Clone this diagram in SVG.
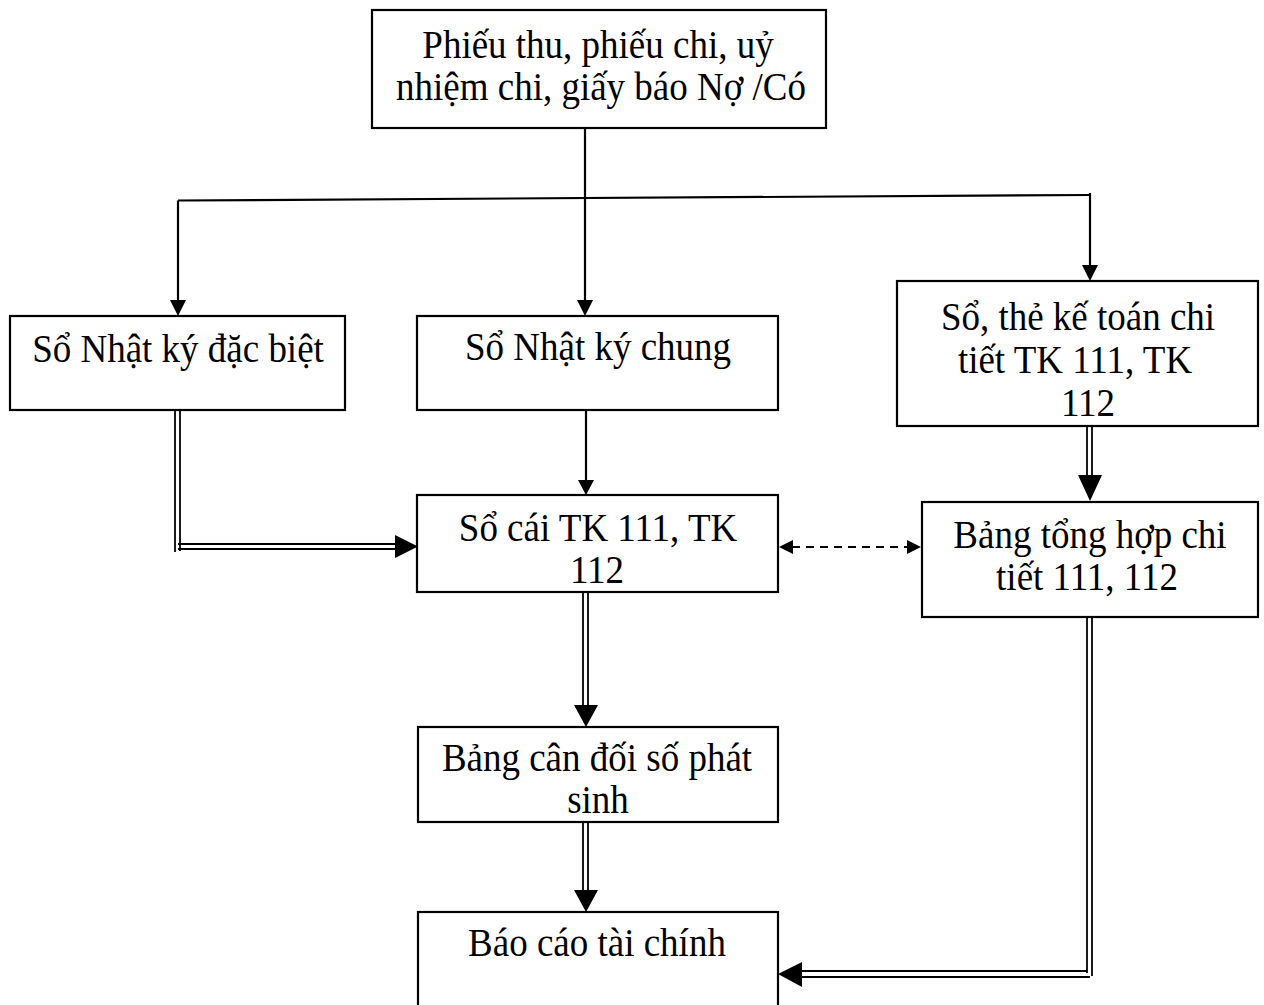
<svg xmlns="http://www.w3.org/2000/svg" width="1264" height="1005" viewBox="0 0 1264 1005">
<style>
.box{fill:#fff;stroke:#000;stroke-width:2.2}
.t{font-family:"Liberation Serif","Times New Roman",serif;font-size:37px;fill:#000;text-anchor:middle}
.ln{stroke:#000;stroke-width:2.2;fill:none}
.dl{stroke:#000;stroke-width:1.8;fill:none}
.dash{stroke:#000;stroke-width:2.2;fill:none;stroke-dasharray:8 6}
.ah{fill:#000}
</style>
<rect width="1264" height="1005" fill="#fff"/>
<g id="connectors">
  <line class="ln" x1="585" y1="128" x2="585" y2="302"/>
  <line class="ln" x1="178" y1="200.5" x2="1090" y2="195"/>
  <line class="ln" x1="178" y1="200.5" x2="178" y2="302"/>
  <line class="ln" x1="1090" y1="193" x2="1090" y2="267"/>
  <polygon class="ah" points="170,300 186,300 178,316"/>
  <polygon class="ah" points="577,300 593,300 585,316"/>
  <polygon class="ah" points="1082,265 1098,265 1090,281"/>
  <line class="ln" x1="586" y1="402" x2="586" y2="482"/>
  <polygon class="ah" points="578,480 594,480 586,495"/>
  <line class="dl" x1="175" y1="410" x2="175" y2="552"/>
  <line class="dl" x1="180" y1="410" x2="180" y2="551"/>
  <line class="dl" x1="178" y1="544" x2="396" y2="544"/>
  <line class="dl" x1="178" y1="549" x2="396" y2="549"/>
  <polygon class="ah" points="395,535 418,546.5 395,558"/>
  <line class="dash" x1="792" y1="547" x2="908" y2="547"/>
  <polygon class="ah" points="793,540 793,554 779,547"/>
  <polygon class="ah" points="907,540 907,554 921,547"/>
  <line class="dl" x1="1087" y1="426" x2="1087" y2="476"/>
  <line class="dl" x1="1092" y1="426" x2="1092" y2="476"/>
  <polygon class="ah" points="1078,475 1102,475 1090,501"/>
  <line class="dl" x1="583" y1="592" x2="583" y2="706"/>
  <line class="dl" x1="588" y1="592" x2="588" y2="706"/>
  <polygon class="ah" points="574,705 598,705 586,727"/>
  <line class="dl" x1="583" y1="822" x2="583" y2="891"/>
  <line class="dl" x1="588" y1="822" x2="588" y2="891"/>
  <polygon class="ah" points="574,890 598,890 586,912"/>
  <line class="dl" x1="1087" y1="617" x2="1087" y2="973"/>
  <line class="dl" x1="1092" y1="617" x2="1092" y2="976"/>
  <line class="dl" x1="800" y1="971" x2="1087" y2="971"/>
  <line class="dl" x1="800" y1="977" x2="1090" y2="977"/>
  <polygon class="ah" points="802,962 802,987 778,974"/>
</g>
<g id="n-chungtu">
  <rect class="box" x="372" y="10" width="454" height="118"/>
  <text class="t" x="598" y="0" transform="translate(0,58) scale(1,1.1)">Phiếu thu, phiếu chi, uỷ</text>
  <text class="t" x="601" y="0" transform="translate(0,100) scale(1,1.1)">nhiệm chi, giấy báo Nợ /Có</text>
</g>
<g id="n-nkdb">
  <rect class="box" x="10" y="316" width="335" height="94"/>
  <text class="t" x="178" y="0" transform="translate(0,362) scale(1,1.1)">Sổ Nhật ký đặc biệt</text>
</g>
<g id="n-nkc">
  <rect class="box" x="417" y="316" width="361" height="94"/>
  <text class="t" x="598" y="0" transform="translate(0,360) scale(1,1.1)">Sổ Nhật ký chung</text>
</g>
<g id="n-sothe">
  <rect class="box" x="897" y="281" width="361" height="145"/>
  <text class="t" x="1078" y="0" transform="translate(0,330) scale(1,1.1)">Sổ, thẻ kế toán chi</text>
  <text class="t" x="1075" y="0" transform="translate(0,373) scale(1,1.1)">tiết TK 111, TK</text>
  <text class="t" x="1088" y="0" transform="translate(0,416) scale(1,1.1)">112</text>
</g>
<g id="n-socai">
  <rect class="box" x="417" y="495" width="361" height="97"/>
  <text class="t" x="598" y="0" transform="translate(0,541) scale(1,1.1)">Sổ cái TK 111, TK</text>
  <text class="t" x="597" y="0" transform="translate(0,583) scale(1,1.1)">112</text>
</g>
<g id="n-tonghop">
  <rect class="box" x="922" y="502" width="336" height="115"/>
  <text class="t" x="1090" y="0" transform="translate(0,548) scale(1,1.1)">Bảng tổng hợp chi</text>
  <text class="t" x="1087" y="0" transform="translate(0,590) scale(1,1.1)">tiết 111, 112</text>
</g>
<g id="n-cdps">
  <rect class="box" x="418" y="727" width="360" height="95"/>
  <text class="t" x="597" y="0" transform="translate(0,771) scale(1,1.1)">Bảng cân đối số phát</text>
  <text class="t" x="598" y="0" transform="translate(0,813) scale(1,1.1)">sinh</text>
</g>
<g id="n-bctc">
  <rect class="box" x="418" y="912" width="360" height="100"/>
  <text class="t" x="597" y="0" transform="translate(0,956) scale(1,1.1)">Báo cáo tài chính</text>
</g>
</svg>
